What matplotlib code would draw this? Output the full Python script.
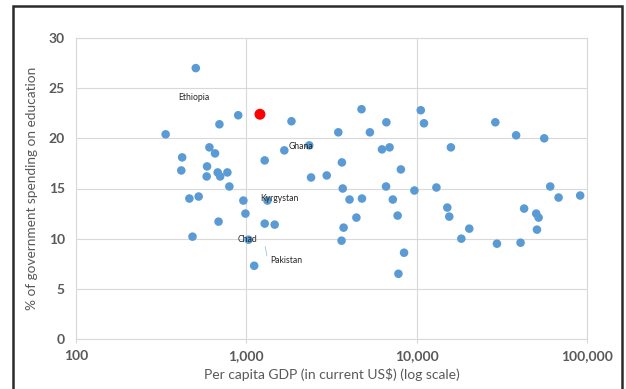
import matplotlib
matplotlib.use("Agg")
import matplotlib.pyplot as plt
from matplotlib.patches import Rectangle
from matplotlib.ticker import FixedLocator, FuncFormatter, NullLocator

plt.rcParams['font.family'] = ['Lato', 'DejaVu Sans']

# Per capita GDP (current US$) and share of government spending on education (%)
gdp = [505, 896, 695, 336, 1841, 2340, 1671, 607, 655, 420, 415, 588, 585, 679,
       702, 774, 795, 1282, 2399, 2965, 463, 525, 961, 1330, 988, 687, 1282, 1467,
       483, 1031, 1112, 3467, 4745, 5315, 6641, 6257, 6934, 3640, 3680, 4035, 4773,
       4428, 3724, 3623, 6610, 8077, 7245, 7731, 8433, 7814, 9700, 10570, 11040,
       13060, 15880, 15130, 15540, 20360, 18290, 28960, 29600, 38360, 40740, 56100,
       60830, 68100, 91200, 42740, 50330, 52000, 50850]
edu = [27.0, 22.3, 21.4, 20.4, 21.7, 19.3, 18.8, 19.1, 18.5, 18.1, 16.8, 17.2, 16.2,
       16.6, 16.2, 16.6, 15.2, 17.8, 16.1, 16.3, 14.0, 14.2, 13.8, 13.8, 12.5, 11.7,
       11.5, 11.4, 10.2, 9.9, 7.3, 20.6, 22.9, 20.6, 21.6, 18.9, 19.1, 17.6, 15.0,
       13.9, 14.0, 12.1, 11.1, 9.8, 15.2, 16.9, 13.9, 12.3, 8.6, 6.5, 14.8, 22.8,
       21.5, 15.1, 19.1, 13.1, 12.2, 11.0, 10.0, 21.6, 9.5, 20.3, 9.6, 20.0, 15.2,
       14.1, 14.3, 13.0, 12.5, 12.1, 10.9]

# Highlighted country
hl_gdp = [1202]
hl_edu = [22.4]

# Country labels: (name, x, y)
labels = [("Ethiopia", 397, 24.1),
          ("Ghana", 1780, 19.2),
          ("Kyrgystan", 1210, 14.0),
          ("Chad", 890, 9.9),
          ("Pakistan", 1380, 7.8)]

xticks = [100, 1000, 10000, 100000]
yticks = [0, 5, 10, 15, 20, 25, 30]

fig = plt.figure(figsize=(6.26, 3.89), dpi=100)
fig.patch.set_facecolor("white")

# dark frame around the chart
fig.patches.append(Rectangle((13 / 626, -0.05), (622 - 13) / 626, 1 - 6 / 389 + 0.05,
                             transform=fig.transFigure, fill=False,
                             edgecolor="#2b2b2b", linewidth=1.8, zorder=0))

ax = fig.add_axes([76 / 626, 1 - 339 / 389, (587 - 76) / 626, (339 - 38) / 389])
ax.set_xscale("log")
ax.set_xlim(100, 100000)
ax.set_ylim(0, 30)

ax.xaxis.set_major_locator(FixedLocator(xticks))
ax.xaxis.set_minor_locator(NullLocator())
ax.xaxis.set_major_formatter(FuncFormatter(lambda v, p: f"{int(round(v)):,}"))
ax.set_yticks(yticks)

grid_c = "#d9d9d9"
ax.grid(True, which="major", color=grid_c, linewidth=0.8)
ax.set_axisbelow(True)
for s in ax.spines.values():
    s.set_color(grid_c)
    s.set_linewidth(0.8)

ax.tick_params(axis="x", colors=grid_c, length=3, width=0.8, labelcolor="#595959",
               labelsize=10, pad=5)
ax.tick_params(axis="y", length=0, labelcolor="#595959", labelsize=10, pad=8)
for t in ax.get_xticklabels() + ax.get_yticklabels():
    t.set_fontweight("bold")

ax.scatter(gdp, edu, s=38, color="#5b9bd5", edgecolors="none", zorder=3)
ax.scatter(hl_gdp, hl_edu, s=62, color="#ff0000", edgecolors="none", zorder=4)

for name, x, y in labels:
    ax.text(x, y, name, fontsize=6.2, color="#262626", va="center", ha="left", zorder=5)

# leader line for Pakistan
ax.plot([1290, 1320], [9.2, 8.3], color="#9dc3e6", linewidth=0.6, zorder=2)

ax.set_xlabel("Per capita GDP (in current US\\$) (log scale)", fontsize=10,
              color="#595959", labelpad=4)
ax.set_ylabel("% of government spending on education", fontsize=9.8,
              color="#595959", labelpad=8)

fig.savefig("out.png", dpi=100)
